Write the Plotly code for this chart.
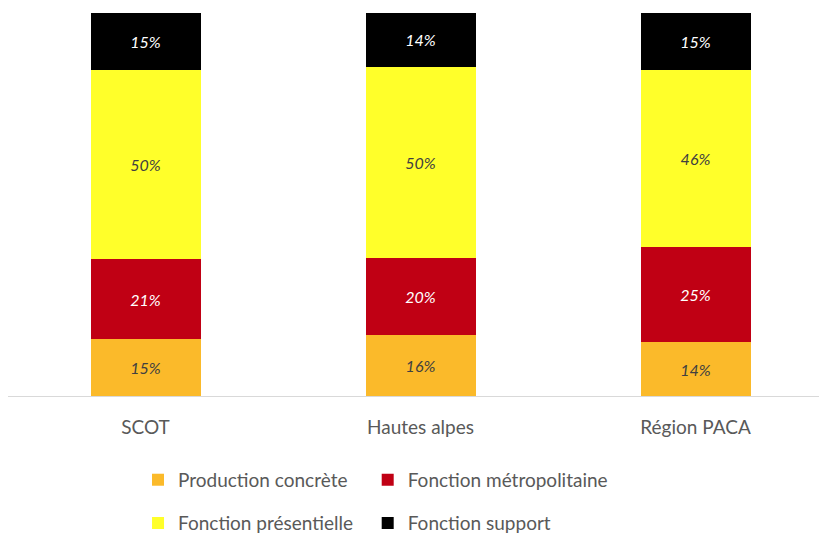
import plotly.graph_objects as go

categories = ["SCOT", "Hautes alpes", "Région PACA"]

production = [15, 16, 14]
metropolitaine = [21, 20, 25]
presentielle = [50, 50, 46]
support = [15, 14, 15]

series = [
    ("Production concrète", production, "#FBBA2A", "#404040", "legend"),
    ("Fonction métropolitaine", metropolitaine, "#C00014", "#FFFFFF", "legend2"),
    ("Fonction présentielle", presentielle, "#FFFF2A", "#404040", "legend3"),
    ("Fonction support", support, "#000000", "#FFFFFF", "legend4"),
]

FONT = "Lato, Calibri, Carlito, sans-serif"

fig = go.Figure()
for name, vals, color, txtcolor, leg in series:
    fig.add_trace(go.Bar(
        x=categories,
        y=vals,
        name=name,
        marker=dict(color=color, line=dict(width=0)),
        text=[f"{v}%" for v in vals],
        textposition="inside",
        insidetextanchor="middle",
        textangle=0,
        textfont=dict(family=FONT, size=16, color=txtcolor, style="italic"),
        legend=leg,
        showlegend=True,
        hovertemplate="%{x}<br>" + name + " : %{text}<extra></extra>",
    ))

fig.update_xaxes(
    showline=True,
    linecolor="#D9D9D9",
    linewidth=1,
    ticks="",
    ticklabelstandoff=14,
    tickfont=dict(family=FONT, size=19, color="#595959"),
    showgrid=False,
)
fig.update_yaxes(visible=False, range=[0, 100], showgrid=False)

legend_common = dict(
    orientation="h",
    xanchor="left",
    yanchor="middle",
    font=dict(family=FONT, size=19, color="#595959"),
    bgcolor="rgba(0,0,0,0)",
)

fig.update_layout(
    showlegend=True,
    barmode="stack",
    barnorm="percent",
    bargap=0.6,
    width=827,
    height=535,
    margin=dict(l=0, r=2, t=5, b=147),
    plot_bgcolor="white",
    paper_bgcolor="white",
    legend=dict(legend_common, x=0.1576, y=-0.219),
    legend2=dict(legend_common, x=0.436, y=-0.219),
    legend3=dict(legend_common, x=0.1576, y=-0.332),
    legend4=dict(legend_common, x=0.436, y=-0.332),
    uniformtext=dict(mode="show", minsize=10),
)

fig.write_html("out.html")
